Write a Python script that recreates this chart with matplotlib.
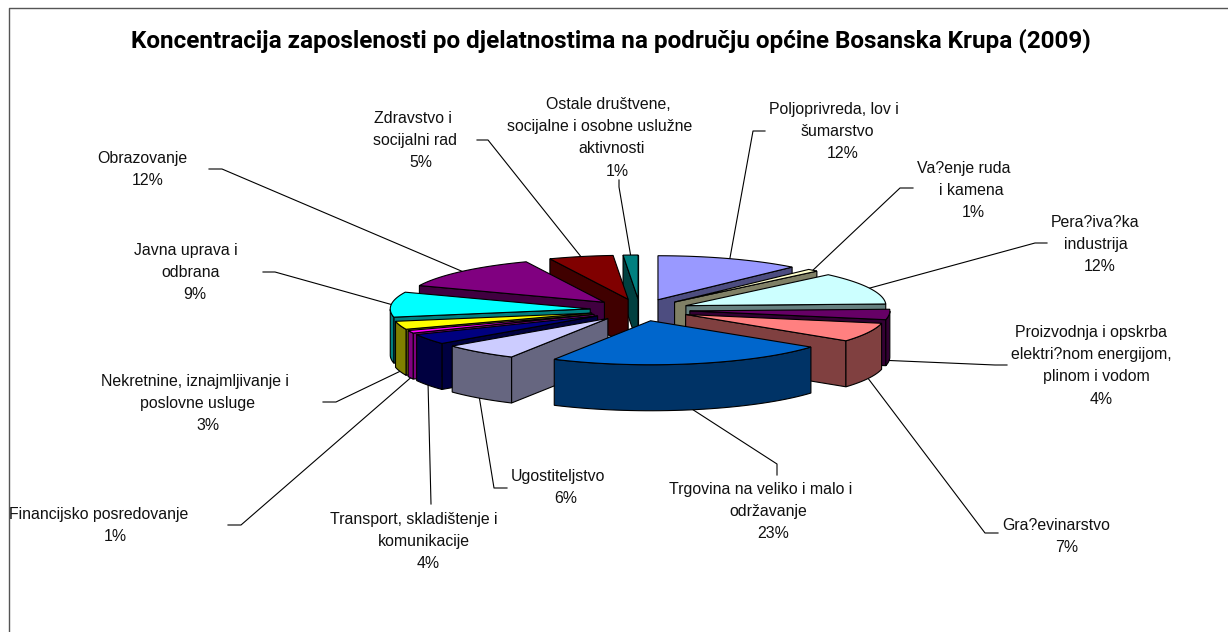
import numpy as np
import matplotlib
matplotlib.use("Agg")
import matplotlib.pyplot as plt
from matplotlib.patches import Polygon

title = "Koncentracija zaposlenosti po djelatnostima na području općine Bosanska Krupa (2009)"

categories = ["Poljoprivreda, lov i\nšumarstvo", "Va?enje ruda\ni kamena", "Pera?iva?ka\nindustrija",
              "Proizvodnja i opskrba\nelektri?nom energijom,\nplinom i vodom", "Gra?evinarstvo",
              "Trgovina na veliko i malo i\nodržavanje", "Ugostiteljstvo", "Transport, skladištenje i\nkomunikacije",
              "Financijsko posredovanje", "Nekretnine, iznajmljivanje i\nposlovne usluge", "Javna uprava i\nodbrana",
              "Obrazovanje", "Zdravstvo i\nsocijalni rad", "Ostale društvene,\nsocijalne i osobne uslužne\naktivnosti"]
# they round to the printed percentages
values = [11.7, 0.9, 11.8, 3.8, 7.0, 22.8, 6.2, 3.8, 1.0, 3.0, 9.2, 12.4, 5.2, 1.2]
colors = ["#9999FF", "#FFFFCC", "#CCFFFF", "#660066", "#FF8080", "#0066CC", "#CCCCFF",
          "#000080", "#FF00FF", "#FFFF00", "#00FFFF", "#800080", "#800000", "#008080"]

# label layout in pixels, centre x of every line (the lines do not share a centre)
line_x = [[834, 837, 843], [964, 971, 973], [1095, 1096, 1100], [1091, 1091, 1096, 1101], [1056, 1067],
          [761, 768, 773], [558, 566], [414, 424, 428], [99, 115], [195, 198, 208], [186, 191, 195],
          [142, 148], [413, 415, 421], [608, 600, 612, 617]]
label_y = [108, 167, 221, 331, 524, 488, 475, 518, 513, 380, 249, 157, 117, 103]
elbow = [(753, 131), (900, 188), (1035, 243), (995, 365), (985, 533), (777, 464), (494, 488),
         (431, 504), (241, 525), (336, 402), (275, 272), (222, 169), (488, 140), (619, 187)]
leader_end = [(765, 131), (913, 188), (1047, 243), (1007, 365), (998, 533), (777, 475), (507, 488),
              (431, 504), (228, 525), (323, 402), (263, 272), (209, 169), (477, 140), (619, 180)]

cx, cy = 640, 310
rx, ry = 200, 44
ex, ey = 50, 11
depth = 46


def darker(c):
    return tuple(0.5 * v for v in matplotlib.colors.to_rgb(c))


def rim(ax0, ay0, t):
    return np.column_stack([ax0 + rx * np.sin(t), ay0 - ry * np.cos(t)])


fig = plt.figure(figsize=(12.28, 6.32), dpi=100)
ax = fig.add_axes([0, 0, 1, 1])
ax.set_xlim(0, 1228)
ax.set_ylim(632, 0)
ax.axis("off")

# frame is only visible on top and left
ax.plot([1228, 9, 9], [8, 8, 632], color="#555555", lw=1.0)

ax.text(611, 40.5, title, ha="center", va="center", fontsize=17.45, fontweight="bold",
        family="Roboto", color="black")

edges = np.cumsum([0] + values) / sum(values) * 2 * np.pi
mids = (edges[:-1] + edges[1:]) / 2
apex = [(cx + ex * np.sin(m), cy - ey * np.cos(m)) for m in mids]

# back slices first
order = sorted(range(len(values)), key=lambda k: np.cos(mids[k]), reverse=True)
z = 2
for k in order:
    a = np.array(apex[k])
    t = np.linspace(edges[k], edges[k + 1], 40)
    top = rim(a[0], a[1], t)
    side = darker(colors[k])
    down = np.array([0, depth])
    # only the cut faces turned to the viewer
    faces = []
    if np.sin(t[0]) < 0:
        faces.append(top[0])
    if np.sin(t[-1]) > 0:
        faces.append(top[-1])
    for p in faces:
        ax.add_patch(Polygon([a, p, p + down, a + down], closed=True, fc=side, ec="black", lw=0.8, zorder=z))
        z += 1
    front = t[(t > np.pi / 2) & (t < 3 * np.pi / 2)]
    if len(front) > 1:
        arc = rim(a[0], a[1], front)
        ax.add_patch(Polygon(np.vstack([arc, arc[::-1] + down]), closed=True, fc=side, ec="black", lw=0.8, zorder=z))
        z += 1
    ax.add_patch(Polygon(np.vstack([a, top]), closed=True, fc=colors[k], ec="black", lw=0.8, zorder=z))
    z += 1

for k in range(len(values)):
    a = np.array(apex[k])
    p = rim(a[0], a[1], np.array([mids[k]]))[0]
    if np.cos(mids[k]) < 0:
        p = p + [0, depth]
    ax.plot([p[0], elbow[k][0], leader_end[k][0]], [p[1], elbow[k][1], leader_end[k][1]],
            color="black", lw=0.8, zorder=1)
    lines = categories[k].split("\n") + ["%d%%" % round(values[k])]
    for i, line in enumerate(lines):
        ax.text(line_x[k][i], label_y[k] + i * 22.2, line, ha="center", va="center_baseline", fontsize=11.4,
                family="Liberation Sans", color="#111111", zorder=500)

fig.savefig("out.png", dpi=100)
